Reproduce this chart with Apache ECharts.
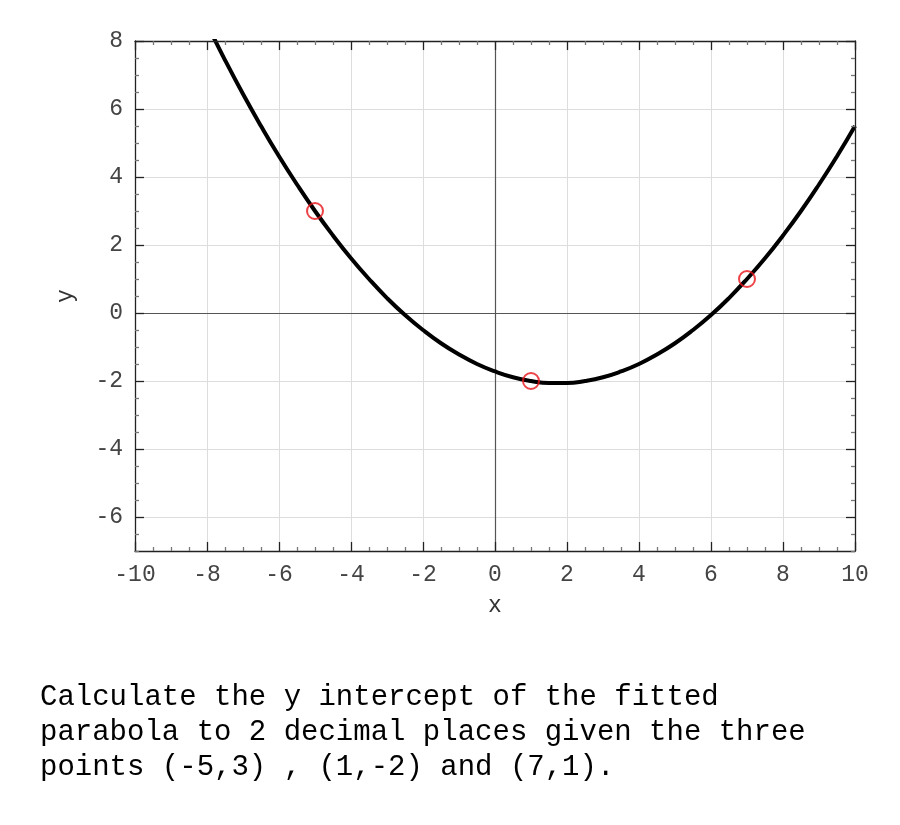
<!DOCTYPE html>
<html>
<head>
<meta charset="utf-8">
<script src="https://cdn.jsdelivr.net/npm/echarts@6/dist/echarts.min.js"></script>
<style>
html,body{margin:0;padding:0;background:#fff;}
#chart{width:900px;height:825px;}
</style>
</head>
<body>
<div id="chart"></div>
<script>
// Curve samples (x, y)
const curveX = [-8,-7.5,-7,-6.5,-6,-5.5,-5,-4.5,-4,-3.5,-3,-2.5,-2,-1.5,-1,-0.5,0,0.5,1,1.5,2,2.5,3,3.5,4,4.5,5,5.5,6,6.5,7,7.5,8,8.5,9,9.5,10];
const curveY = [8.5,7.44,6.44,5.5,4.61,3.78,3.0,2.28,1.61,1.0,0.44,-0.06,-0.5,-0.89,-1.22,-1.5,-1.72,-1.89,-2.0,-2.06,-2.06,-2.0,-1.89,-1.72,-1.5,-1.22,-0.89,-0.5,-0.06,0.44,1.0,1.61,2.28,3.0,3.78,4.61,5.5];
// Given points
const pointsX = [-5, 1, 7];
const pointsY = [3, -2, 1];
// Axis ranges and tick values
const xRange = [-10, 10, 2];
const yMin = -7, yMax = 8;
const yTicks = [-6, -4, -2, 0, 2, 4, 6, 8];
const yMinorTicks = [-7, -6.5, -5.5, -5, -4.5, -3.5, -3, -2.5, -1.5, -1, -0.5, 0.5, 1, 1.5, 2.5, 3, 3.5, 4.5, 5, 5.5, 6.5, 7, 7.5];
const questionLines = [
  'Calculate the y intercept of the fitted',
  'parabola to 2 decimal places given the three',
  'points (-5,3) , (1,-2) and (7,1).'
];

const chart = echarts.init(document.getElementById('chart'));
const mono = 'Liberation Mono';
const axisLineStyle = {show: true, onZero: false, lineStyle: {color: '#222', width: 1.3}};
const majorTick = {show: true, inside: true, length: 9, lineStyle: {color: '#222', width: 1.3}};
const minorTickStyle = {color: '#777', width: 1.3};

function xAx(pos, main) {
  return {
    type: 'value', position: pos, min: xRange[0], max: xRange[1], interval: xRange[2], z: 10,
    name: main ? 'x' : '', nameLocation: 'middle', nameGap: 43,
    nameTextStyle: {fontFamily: mono, fontSize: 23, color: '#333'},
    axisLabel: {show: main, fontFamily: mono, fontSize: 23, color: '#444', margin: 12},
    axisLine: axisLineStyle,
    axisTick: majorTick,
    minorTick: {show: true, splitNumber: 4, length: 4, lineStyle: minorTickStyle},
    splitLine: {show: false},
    minorSplitLine: {show: false}
  };
}
function yAx(pos, main) {
  return {
    type: 'value', position: pos, min: yMin, max: yMax, offset: 0, z: 10,
    name: main ? 'y' : '', nameLocation: 'middle', nameGap: 58, nameRotate: 90,
    nameTextStyle: {fontFamily: mono, fontSize: 23, color: '#333'},
    axisLabel: {show: main, fontFamily: mono, fontSize: 23, color: '#444', margin: 12, customValues: yTicks},
    axisLine: axisLineStyle,
    axisTick: Object.assign({}, majorTick, {customValues: yTicks}),
    minorTick: {show: false},
    splitLine: {show: false}
  };
}
function yMinorAx(pos) {
  return {
    type: 'value', position: pos, min: yMin, max: yMax, offset: 0, z: 10,
    axisLine: {show: false, onZero: false}, axisLabel: {show: false}, splitLine: {show: false},
    axisTick: {show: true, inside: true, length: 4, lineStyle: minorTickStyle, customValues: yMinorTicks}
  };
}

const curveData = curveX.map((x, i) => [x, curveY[i]]);
const pointData = pointsX.map((x, i) => [x, pointsY[i]]);
const hGrid = yTicks.filter(v => v !== 0 && v !== yMax).map(v => ({yAxis: v}));
const vGrid = [-8, -6, -4, -2, 2, 4, 6, 8].map(v => ({xAxis: v}));

chart.setOption({
  animation: false,
  backgroundColor: '#fff',
  grid: {left: 135, top: 41, width: 720, height: 510, containLabel: false, outerBoundsMode: 'none'},
  xAxis: [xAx('bottom', true), xAx('top', false)],
  yAxis: [yAx('left', true), yAx('right', false), yMinorAx('left'), yMinorAx('right')],
  series: [
    {
      type: 'line', xAxisIndex: 0, yAxisIndex: 0, data: [], silent: true, z: 1,
      markLine: {
        silent: true, symbol: 'none', label: {show: false}, z: 1,
        lineStyle: {color: '#ddd', width: 1, type: 'solid'},
        data: hGrid.concat(vGrid)
      }
    },
    {
      type: 'line', xAxisIndex: 0, yAxisIndex: 0, data: [], silent: true, z: 2,
      markLine: {
        silent: true, symbol: 'none', label: {show: false}, z: 2,
        lineStyle: {color: '#555', width: 1.2, type: 'solid'},
        data: [{xAxis: 0}, {yAxis: 0}]
      }
    },
    {
      type: 'line', xAxisIndex: 0, yAxisIndex: 0, data: curveData, smooth: true,
      showSymbol: false, symbol: 'none', clip: true,
      lineStyle: {color: '#000', width: 4}, z: 3
    },
    {
      type: 'scatter', xAxisIndex: 0, yAxisIndex: 0, data: pointData,
      symbol: 'circle', symbolSize: 16,
      itemStyle: {color: 'rgba(0,0,0,0)', borderColor: '#e8141a', borderWidth: 2}, z: 4
    }
  ],
  graphic: [{
    type: 'text', left: 40, top: 680,
    style: {
      text: questionLines.join('\n'), fontFamily: mono, fontSize: 29,
      lineHeight: 35, fill: '#000'
    }
  }]
});
</script>
</body>
</html>
